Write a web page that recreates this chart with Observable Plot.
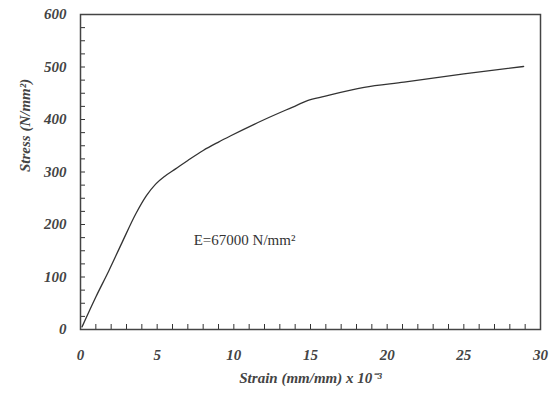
<!DOCTYPE html>
<html>
<head>
<meta charset="utf-8">
<script src="https://cdn.jsdelivr.net/npm/d3@7"></script>
<script src="https://cdn.jsdelivr.net/npm/@observablehq/plot@0.6"></script>
<style>
  html, body { margin: 0; padding: 0; background: #fff; }
  svg { display: block; }
</style>
</head>
<body>
<div id="chart"></div>
<script>
const strain = [0.1, 1, 1.85, 2.7, 3.6, 4.3, 4.9, 5.5, 6.2, 7, 8, 9, 9.8, 12, 14.1, 14.8, 15.9, 18.5, 21.1, 25, 28.9];
const stress = [5, 62, 112, 165, 220, 255, 277, 292, 306, 322, 341, 357, 369, 400, 427, 436, 444, 461, 471, 487, 501];
const xTicks = [0, 5, 10, 15, 20, 25, 30];
const yTicks = [0, 100, 200, 300, 400, 500, 600];
const xMinorTicks = d3.range(0, 31, 1);
const yMinorTicks = d3.range(0, 601, 25);
const annotation = "E=67000 N/mm²";

const data = strain.map((s, i) => ({strain: s, stress: stress[i]}));
const font = "Liberation Serif, Times New Roman, serif";
const W = 551, H = 405, ML = 80, MR = 11, MT = 14, MB = 76, TICK = 5;

const chart = Plot.plot({
  width: W,
  height: H,
  marginLeft: ML,
  marginRight: MR,
  marginTop: MT,
  marginBottom: MB,
  style: {fontFamily: font, background: "#fff", color: "#333"},
  x: {domain: [0, 30]},
  y: {domain: [0, 600]},
  marks: [
    Plot.tickX(xMinorTicks, {x: d => d, insetTop: H - MT - MB - TICK, stroke: "#333", strokeWidth: 1}),
    Plot.tickY(yMinorTicks, {y: d => d, insetRight: W - ML - MR - TICK, stroke: "#333", strokeWidth: 1}),
    Plot.axisX({ticks: xTicks, tickSize: 0, tickPadding: 20, label: null,
      fontSize: 15, fontWeight: "bold", fontStyle: "italic", fill: "#444"}),
    Plot.axisY({ticks: yTicks, tickSize: 0, tickPadding: 14, label: null,
      fontSize: 15, fontWeight: "bold", fontStyle: "italic", fill: "#444"}),
    Plot.frame({stroke: "#444", strokeWidth: 1.5}),
    Plot.line(data, {x: "strain", y: "stress", stroke: "#333", strokeWidth: 1.3, curve: "monotone-x"}),
    Plot.text([annotation], {x: 10.7, y: 171, text: d => d, fontSize: 15, fill: "#333", textAnchor: "middle"}),
    Plot.text(["Strain (mm/mm) x 10⁻³"], {frameAnchor: "bottom", dy: 53, text: d => d,
      fontSize: 15, fontWeight: "bold", fontStyle: "italic", fill: "#444"}),
    Plot.text(["Stress (N/mm²)"], {frameAnchor: "left", dx: -55, rotate: -90, text: d => d,
      fontSize: 15, fontWeight: "bold", fontStyle: "italic", fill: "#444"})
  ]
});
document.getElementById("chart").appendChild(chart);
</script>
</body>
</html>
